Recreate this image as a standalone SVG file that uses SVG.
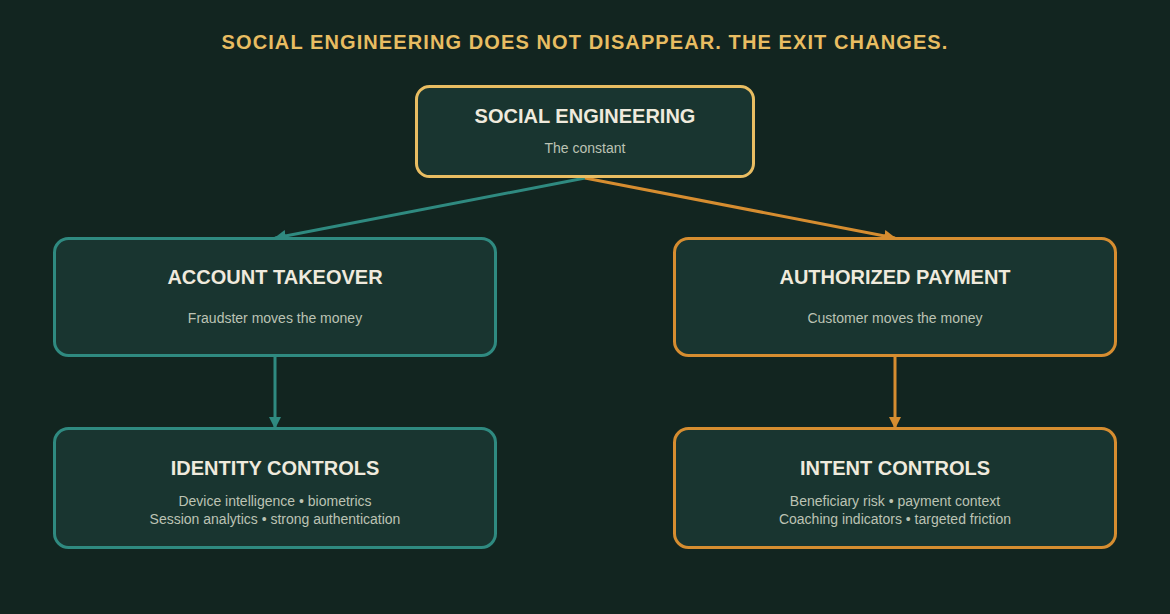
<svg xmlns="http://www.w3.org/2000/svg" width="1170" height="614" viewBox="0 0 1170 614">
<defs>
<style>
.bg{fill:#122520}
.box{fill:#193530;stroke-width:3}
.gold{stroke:#e8bd62}
.teal{stroke:#2f8a80}
.orange{stroke:#d68d30}
.t{font-family:"Liberation Sans",Arial,sans-serif;text-anchor:middle}
.h{font-weight:bold;font-size:20px;fill:#efeadd}
.s{font-size:14px;fill:#bcc3b4}
.line{fill:none;stroke-width:3}
</style>
<marker id="ahT" viewBox="0 0 12 12" refX="11" refY="6" markerWidth="12" markerHeight="12" markerUnits="userSpaceOnUse" orient="auto"><path d="M0,0 L12,6 L0,12 Z" fill="#2f8a80"/></marker>
<marker id="ahO" viewBox="0 0 12 12" refX="11" refY="6" markerWidth="12" markerHeight="12" markerUnits="userSpaceOnUse" orient="auto"><path d="M0,0 L12,6 L0,12 Z" fill="#d68d30"/></marker>
</defs>
<rect class="bg" x="0" y="0" width="1170" height="614"/>
<text class="t" x="585" y="49" font-weight="bold" font-size="20" letter-spacing="1.1" fill="#e8bd62">SOCIAL ENGINEERING DOES NOT DISAPPEAR. THE EXIT CHANGES.</text>
<g id="connectors">
<line class="line teal" x1="585" y1="178" x2="275" y2="238" marker-end="url(#ahT)"/>
<line class="line orange" x1="585" y1="178" x2="895" y2="238" marker-end="url(#ahO)"/>
<line class="line teal" x1="275" y1="356" x2="275" y2="428" marker-end="url(#ahT)"/>
<line class="line orange" x1="895" y1="356" x2="895" y2="428" marker-end="url(#ahO)"/>
</g>
<g id="social-engineering">
<rect class="box gold" x="416.5" y="86.5" width="337" height="90" rx="13"/>
<text class="t h" x="585" y="123">SOCIAL ENGINEERING</text>
<text class="t s" x="585" y="153">The constant</text>
</g>
<g id="account-takeover">
<rect class="box teal" x="54.5" y="238.5" width="441" height="117" rx="14"/>
<text class="t h" x="275" y="284">ACCOUNT TAKEOVER</text>
<text class="t s" x="275" y="323">Fraudster moves the money</text>
</g>
<g id="authorized-payment">
<rect class="box orange" x="674.5" y="238.5" width="441" height="117" rx="14"/>
<text class="t h" x="895" y="284">AUTHORIZED PAYMENT</text>
<text class="t s" x="895" y="323">Customer moves the money</text>
</g>
<g id="identity-controls">
<rect class="box teal" x="54.5" y="428.5" width="441" height="119" rx="14"/>
<text class="t h" x="275" y="475">IDENTITY CONTROLS</text>
<text class="t s" x="275" y="506">Device intelligence • biometrics</text>
<text class="t s" x="275" y="524">Session analytics • strong authentication</text>
</g>
<g id="intent-controls">
<rect class="box orange" x="674.5" y="428.5" width="441" height="119" rx="14"/>
<text class="t h" x="895" y="475">INTENT CONTROLS</text>
<text class="t s" x="895" y="506">Beneficiary risk • payment context</text>
<text class="t s" x="895" y="524">Coaching indicators • targeted friction</text>
</g>
</svg>
